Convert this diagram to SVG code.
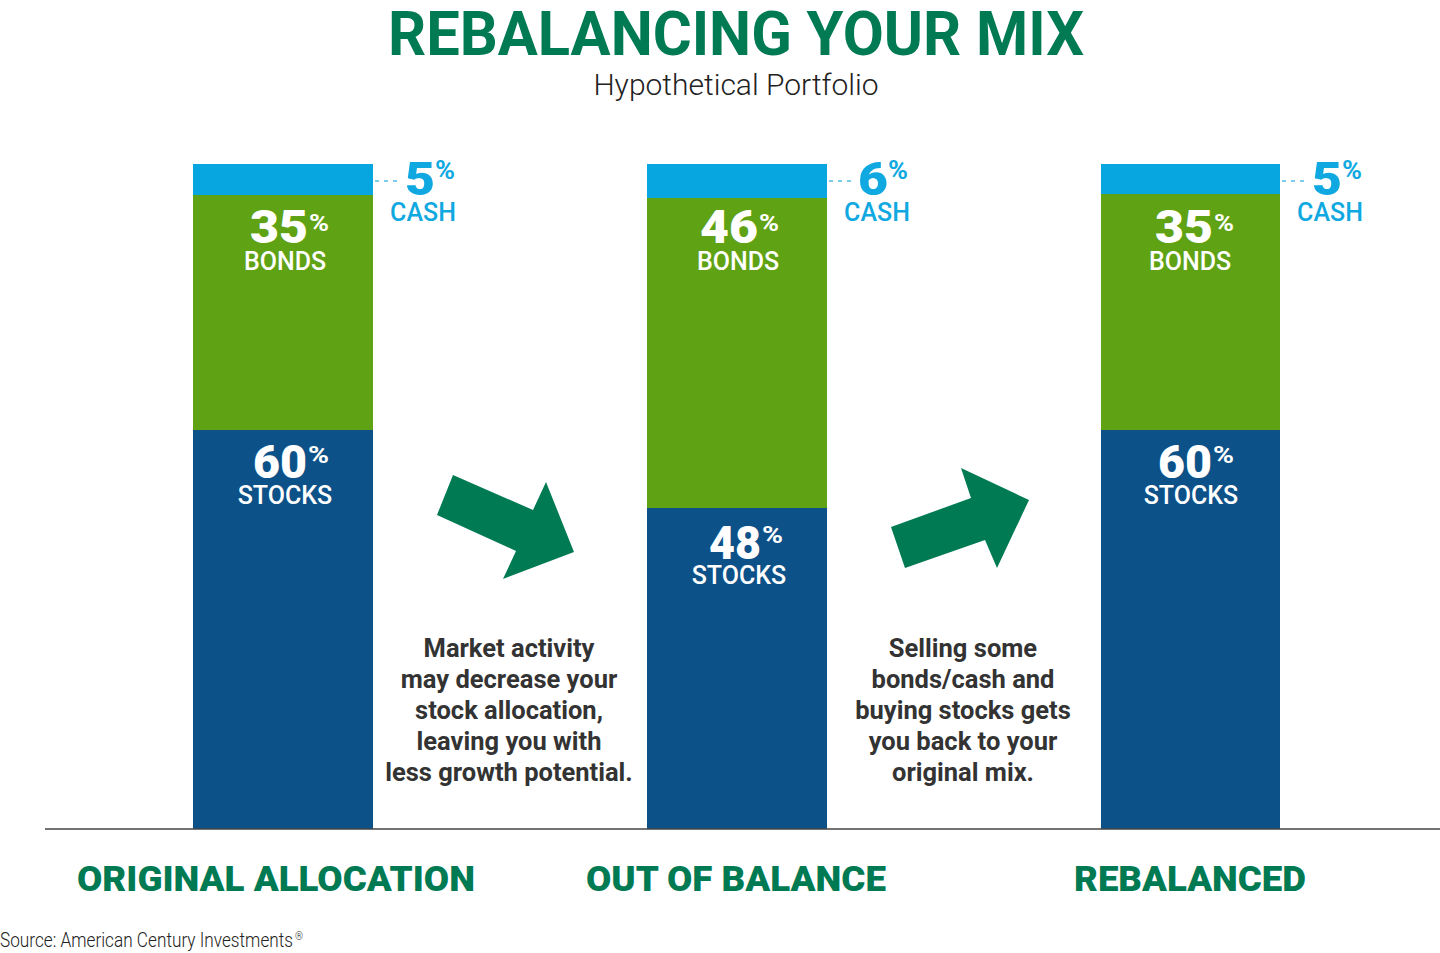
<svg xmlns="http://www.w3.org/2000/svg" width="1440" height="953" viewBox="0 0 1440 953">
<style>
text{font-family:Roboto,"Liberation Sans",sans-serif}
.title{font-size:61px;font-weight:700;fill:#007a53}
.sub{font-size:30px;font-weight:300;fill:#222}
.cash{fill:#08a6e0}
.bonds{fill:#5fa213}
.stocks{fill:#0d5189}
.num{font-size:46px;font-weight:900;fill:#fff}
.pct{font-size:24px;font-weight:700;fill:#fff}
.lbl{font-size:25px;font-weight:500;fill:#fff;text-anchor:middle}
.cnum{font-size:46px;font-weight:900;fill:#10a8e0}
.cpct{font-size:25px;font-weight:700;fill:#10a8e0}
.clbl{font-size:25px;font-weight:500;fill:#10a8e0;text-anchor:middle}
.dash{stroke:#4fbde8;stroke-width:1.5;stroke-dasharray:4 5;fill:none}
.note{font-size:25.5px;font-weight:700;fill:#333;text-anchor:middle}
.cap{font-size:35px;font-weight:900;fill:#007a53;text-anchor:middle}
.src{font-size:20px;font-weight:300;fill:#222}
.reg{font-size:10px;font-weight:300;fill:#222}
.arrow{fill:#007a53}
</style>
<text class="title" x="736" y="55" text-anchor="middle" textLength="696" lengthAdjust="spacingAndGlyphs">REBALANCING YOUR MIX</text>
<text class="sub" x="736" y="95" text-anchor="middle">Hypothetical Portfolio</text>

<g id="bar-original">
<rect class="cash" x="193" y="164" width="180" height="31"/>
<rect class="bonds" x="193" y="195" width="180" height="235"/>
<rect class="stocks" x="193" y="430" width="180" height="399"/>
<text class="num" x="250" y="243" textLength="58" lengthAdjust="spacingAndGlyphs">35</text>
<text class="pct" x="309" y="231" textLength="20" lengthAdjust="spacingAndGlyphs">%</text>
<text class="lbl" x="285" y="270">BONDS</text>
<text class="num" x="253" y="478" textLength="54" lengthAdjust="spacingAndGlyphs">60</text>
<text class="pct" x="308" y="463" textLength="21" lengthAdjust="spacingAndGlyphs">%</text>
<text class="lbl" x="285" y="504">STOCKS</text>
<line class="dash" x1="375" y1="181" x2="400" y2="181"/>
<text class="cnum" x="405" y="195" textLength="30" lengthAdjust="spacingAndGlyphs">5</text>
<text class="cpct" x="435" y="179" textLength="20" lengthAdjust="spacingAndGlyphs">%</text>
<text class="clbl" x="423" y="221">CASH</text>
</g>

<g id="bar-outofbalance">
<rect class="cash" x="647" y="164" width="180" height="34"/>
<rect class="bonds" x="647" y="198" width="180" height="310"/>
<rect class="stocks" x="647" y="508" width="180" height="321"/>
<text class="num" x="700" y="243" textLength="58" lengthAdjust="spacingAndGlyphs">46</text>
<text class="pct" x="759" y="231" textLength="20" lengthAdjust="spacingAndGlyphs">%</text>
<text class="lbl" x="738" y="270">BONDS</text>
<text class="num" x="709" y="559" textLength="52" lengthAdjust="spacingAndGlyphs">48</text>
<text class="pct" x="762" y="543" textLength="21" lengthAdjust="spacingAndGlyphs">%</text>
<text class="lbl" x="739" y="584">STOCKS</text>
<line class="dash" x1="829" y1="181" x2="853" y2="181"/>
<text class="cnum" x="858" y="195" textLength="30" lengthAdjust="spacingAndGlyphs">6</text>
<text class="cpct" x="888" y="179" textLength="20" lengthAdjust="spacingAndGlyphs">%</text>
<text class="clbl" x="877" y="221">CASH</text>
</g>

<g id="bar-rebalanced">
<rect class="cash" x="1101" y="164" width="179" height="30"/>
<rect class="bonds" x="1101" y="194" width="179" height="236"/>
<rect class="stocks" x="1101" y="430" width="179" height="399"/>
<text class="num" x="1155" y="243" textLength="58" lengthAdjust="spacingAndGlyphs">35</text>
<text class="pct" x="1214" y="231" textLength="20" lengthAdjust="spacingAndGlyphs">%</text>
<text class="lbl" x="1190" y="270">BONDS</text>
<text class="num" x="1158" y="478" textLength="54" lengthAdjust="spacingAndGlyphs">60</text>
<text class="pct" x="1213" y="463" textLength="21" lengthAdjust="spacingAndGlyphs">%</text>
<text class="lbl" x="1191" y="504">STOCKS</text>
<line class="dash" x1="1282" y1="181" x2="1306" y2="181"/>
<text class="cnum" x="1312" y="195" textLength="30" lengthAdjust="spacingAndGlyphs">5</text>
<text class="cpct" x="1342" y="179" textLength="20" lengthAdjust="spacingAndGlyphs">%</text>
<text class="clbl" x="1330" y="221">CASH</text>
</g>

<g id="connectors">
<polygon class="arrow" points="453,475 533,510 546,482 574,552 503,579 516,551 437,515"/>
<polygon class="arrow" points="891,527 971,498 961,468 1029,500 997,568 985,540 905,568"/>
<line x1="45" y1="829" x2="1440" y2="829" stroke="#444" stroke-width="1.5"/>
</g>

<g id="note-market">
<text class="note" x="509" y="657">Market activity</text>
<text class="note" x="509" y="688">may decrease your</text>
<text class="note" x="509" y="719">stock allocation,</text>
<text class="note" x="509" y="750">leaving you with</text>
<text class="note" x="509" y="781">less growth potential.</text>
</g>
<g id="note-selling">
<text class="note" x="963" y="657">Selling some</text>
<text class="note" x="963" y="688">bonds/cash and</text>
<text class="note" x="963" y="719">buying stocks gets</text>
<text class="note" x="963" y="750">you back to your</text>
<text class="note" x="963" y="781">original mix.</text>
</g>

<g id="captions">
<text class="cap" x="276" y="891" textLength="398" lengthAdjust="spacingAndGlyphs">ORIGINAL ALLOCATION</text>
<text class="cap" x="736" y="891" textLength="300" lengthAdjust="spacingAndGlyphs">OUT OF BALANCE</text>
<text class="cap" x="1190" y="891" textLength="232" lengthAdjust="spacingAndGlyphs">REBALANCED</text>
</g>
<text class="src" x="0" y="947" textLength="293" lengthAdjust="spacingAndGlyphs">Source: American Century Investments</text>
<text class="reg" x="295" y="940">®</text>
</svg>
